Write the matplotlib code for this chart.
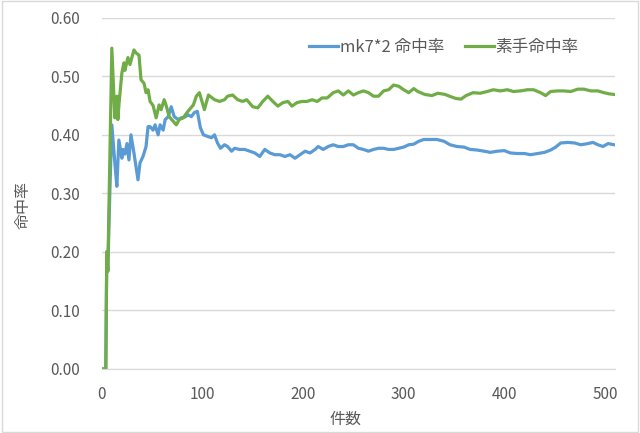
import matplotlib.pyplot as plt
from matplotlib.patches import Rectangle

plt.rcParams['font.family'] = ['Noto Sans CJK JP', 'DejaVu Sans']

# mk7*2 命中率
blue_x = [0, 4, 5, 6, 8, 10, 13, 15, 17, 20, 21, 23, 25, 27, 29, 32, 34, 36, 38, 41,
          44, 46, 48, 51, 53, 56, 58, 61, 63, 66, 69, 72, 76, 79, 82, 86, 89, 92, 95, 98,
          101, 104, 109, 112, 115, 118, 122, 125, 129, 132, 137, 142, 147, 152, 157, 162,
          167, 172, 177, 182, 187, 192, 197, 202, 207, 212, 215, 220, 225, 230, 235, 240,
          245, 250, 255, 260, 265, 270, 275, 280, 285, 290, 295, 300, 305, 310, 315, 320,
          326, 333, 340, 346, 353, 360, 366, 373, 380, 386, 393, 400, 406, 413, 420, 426,
          433, 440, 446, 451, 456, 463, 470, 476, 483, 488, 493, 498, 503, 509]
blue_y = [0, 0, 0.2, 0.167, 0.30, 0.417, 0.352, 0.312, 0.391, 0.36, 0.375, 0.367, 0.385,
          0.357, 0.40, 0.369, 0.346, 0.323, 0.352, 0.363, 0.38, 0.414, 0.414, 0.408, 0.417,
          0.40, 0.417, 0.408, 0.426, 0.431, 0.448, 0.431, 0.426, 0.429, 0.43, 0.434, 0.431,
          0.438, 0.44, 0.412, 0.40, 0.398, 0.395, 0.40, 0.386, 0.377, 0.383, 0.38, 0.372,
          0.377, 0.375, 0.375, 0.372, 0.369, 0.363, 0.375, 0.369, 0.366, 0.366, 0.363,
          0.366, 0.36, 0.366, 0.372, 0.369, 0.375, 0.38, 0.375, 0.38, 0.383, 0.38, 0.38,
          0.383, 0.383, 0.377, 0.375, 0.372, 0.375, 0.377, 0.377, 0.375, 0.375, 0.377,
          0.379, 0.383, 0.384, 0.389, 0.392, 0.392, 0.392, 0.389, 0.383, 0.38, 0.379,
          0.375, 0.374, 0.372, 0.37, 0.372, 0.373, 0.369, 0.368, 0.368, 0.366, 0.368,
          0.37, 0.374, 0.379, 0.386, 0.387, 0.386, 0.383, 0.385, 0.387, 0.383, 0.38,
          0.385, 0.383]

# 素手命中率
green_x = [0, 4, 5, 6, 10, 13, 15, 16, 17, 20, 22, 23, 26, 28, 32, 34, 37, 39, 42, 44,
           46, 48, 51, 54, 57, 59, 62, 64, 67, 71, 74, 77, 81, 83, 87, 91, 94, 97, 102,
           106, 112, 117, 122, 125, 130, 135, 140, 144, 150, 155, 160, 165, 170, 175, 180,
           185, 189, 194, 199, 204, 209, 214, 219, 224, 230, 235, 240, 245, 250, 255, 260,
           265, 270, 275, 280, 285, 290, 295, 300, 305, 310, 314, 321, 328, 334, 341, 347,
           352, 357, 362, 369, 376, 383, 389, 396, 403, 409, 416, 423, 429, 436, 441, 446,
           453, 459, 466, 473, 479, 486, 493, 499, 504, 509]
green_y = [0, 0, 0.2, 0.167, 0.548, 0.429, 0.466, 0.426, 0.45, 0.506, 0.523, 0.51, 0.532,
           0.52, 0.545, 0.54, 0.536, 0.494, 0.488, 0.472, 0.477, 0.457, 0.45, 0.429, 0.451,
           0.443, 0.46, 0.45, 0.431, 0.423, 0.417, 0.426, 0.429, 0.434, 0.443, 0.451, 0.466,
           0.472, 0.443, 0.468, 0.46, 0.457, 0.46, 0.466, 0.468, 0.46, 0.457, 0.46, 0.448,
           0.446, 0.457, 0.466, 0.457, 0.449, 0.455, 0.457, 0.449, 0.455, 0.457, 0.457,
           0.46, 0.457, 0.463, 0.463, 0.472, 0.475, 0.468, 0.475, 0.468, 0.472, 0.475,
           0.472, 0.466, 0.466, 0.475, 0.477, 0.485, 0.483, 0.477, 0.472, 0.479, 0.474,
           0.469, 0.467, 0.471, 0.469, 0.465, 0.462, 0.461, 0.467, 0.472, 0.471, 0.474,
           0.477, 0.475, 0.477, 0.474, 0.475, 0.477, 0.477, 0.472, 0.467, 0.474, 0.475,
           0.475, 0.474, 0.478, 0.478, 0.475, 0.475, 0.472, 0.47, 0.469]

series_names = ['mk7*2 命中率', '素手命中率']
y_ticks = [0.0, 0.1, 0.2, 0.3, 0.4, 0.5, 0.6]
x_ticks = [0, 100, 200, 300, 400, 500]

text_color = '#595959'
grid_color = '#D9D9D9'

fig = plt.figure(figsize=(6.4, 4.33), dpi=100)
ax = fig.add_axes([0.159, 0.148, 0.802, 0.811])

ax.plot(blue_x, blue_y, color='#5B9BD5', lw=2.3, label=series_names[0])
ax.plot(green_x, green_y, color='#70AD47', lw=2.3, label=series_names[1])

ax.set_xlim(0, 510)
ax.set_ylim(0, 0.6)
ax.set_yticks(y_ticks)
ax.set_yticklabels([f'{v:.2f}' for v in y_ticks])
ax.set_xticks(x_ticks)
ax.grid(axis='y', color=grid_color, lw=1)
ax.set_axisbelow(True)
for s in ['top', 'right', 'left']:
    ax.spines[s].set_visible(False)
ax.spines['bottom'].set_color(grid_color)
ax.tick_params(length=0, labelsize=11, colors=text_color)
ax.tick_params(axis='y', pad=16)
ax.tick_params(axis='x', pad=12)

ax.set_xlabel('件数', color=text_color, fontsize=11.5, labelpad=4)
ax.xaxis.set_label_coords(0.474, -0.12)
ax.set_ylabel('命中率', color=text_color, fontsize=11.5)
ax.yaxis.set_label_coords(-0.137, 0.467)

ax.legend(loc='center right', bbox_to_anchor=(0.945, 0.915), ncol=2, frameon=False,
          fontsize=12, labelcolor=text_color, handlelength=1.75, handletextpad=0.1,
          columnspacing=1.2, borderpad=0)

fig.patches.append(Rectangle((0.003, 0.003), 0.994, 0.994, transform=fig.transFigure,
                             fill=False, edgecolor=grid_color, lw=1))

fig.savefig('out.png', dpi=100)
